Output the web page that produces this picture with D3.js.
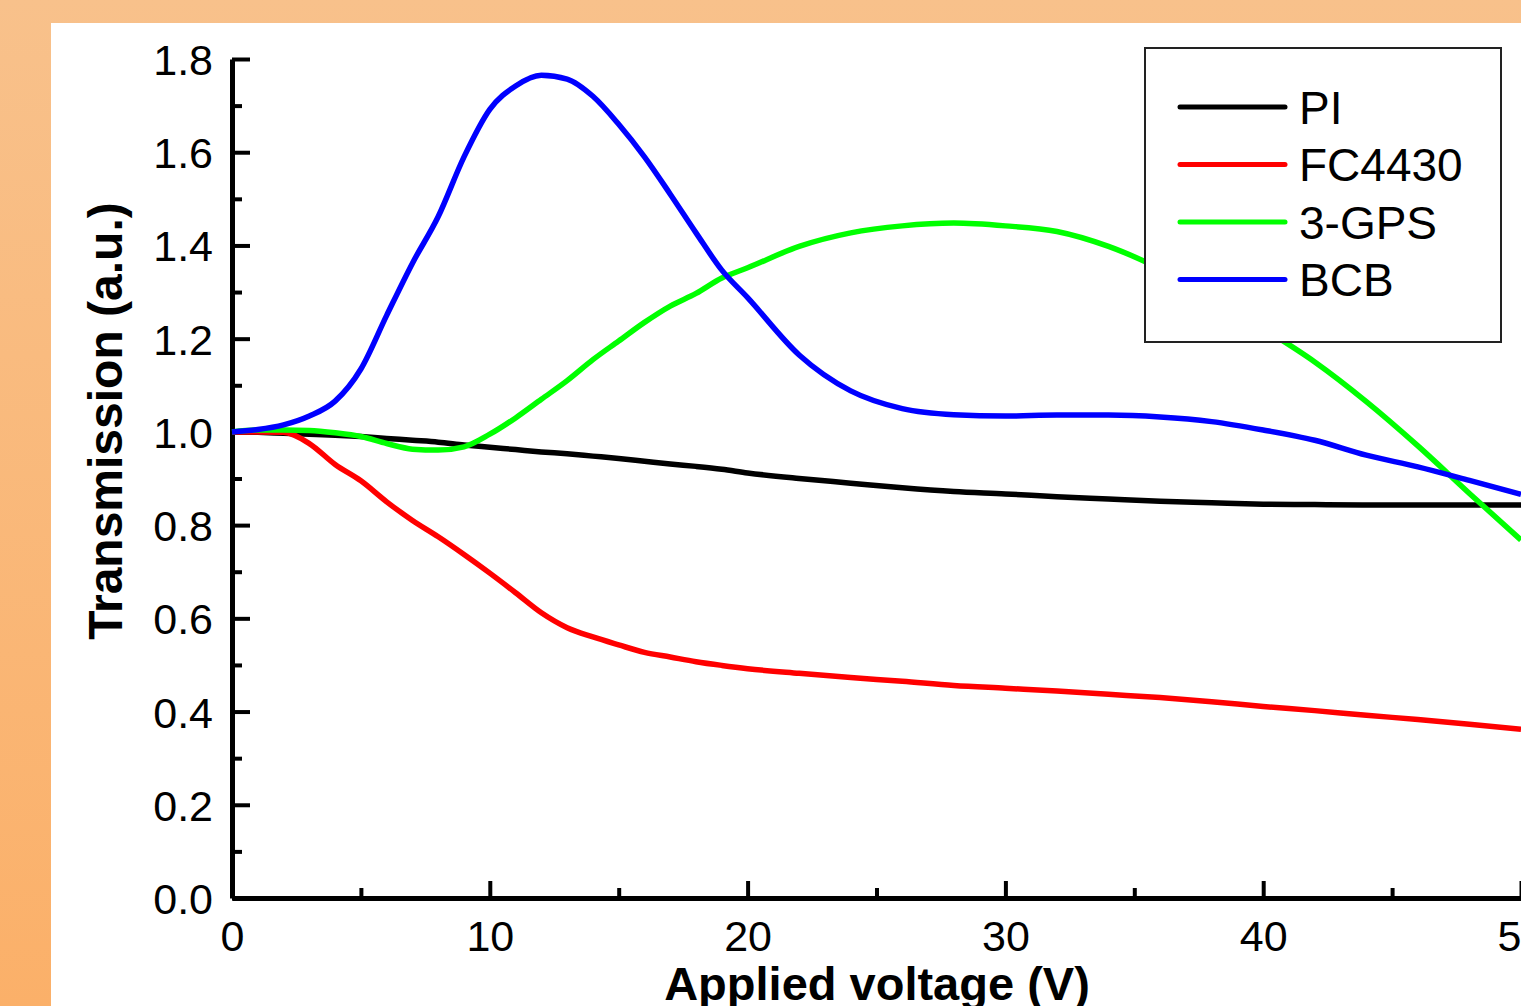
<!DOCTYPE html>
<html>
<head>
<meta charset="utf-8">
<script src="https://cdn.jsdelivr.net/npm/d3@7/dist/d3.min.js"></script>
<style>
  html, body { margin: 0; padding: 0; overflow: hidden; }
  svg { display: block; font-family: "Liberation Sans", Arial, sans-serif; }
</style>
</head>
<body>
<div id="chart"></div>
<script>
// applied voltage (V)
const voltage = [0,1,2,3,4,5,6,7,8,9,10,11,12,13,14,15,16,17,18,19,20,
  22,24,26,28,30,32,34,36,38,40,42,44,46,48,50];

// transmission (a.u.) per alignment layer
const pi = [1.000,0.999,0.997,0.995,0.993,0.990,0.986,0.982,0.978,0.972,0.967,
  0.962,0.957,0.953,0.948,0.943,0.937,0.931,0.926,0.920,0.912,
  0.900,0.890,0.880,0.872,0.867,0.861,0.856,0.851,0.848,0.845,0.844,0.843,0.843,0.843,0.843];
const fc4430 = [1.000,1.000,0.999,0.975,0.930,0.895,0.850,0.810,0.775,0.737,0.697,
  0.655,0.612,0.580,0.560,0.543,0.527,0.517,0.507,0.499,0.492,
  0.482,0.473,0.465,0.456,0.450,0.444,0.437,0.430,0.421,0.411,0.402,0.392,0.383,0.373,0.362];
const gps = [1.000,1.004,1.004,1.003,0.998,0.990,0.975,0.963,0.961,0.968,0.995,
  1.030,1.070,1.110,1.155,1.195,1.235,1.270,1.297,1.330,1.352,
  1.398,1.427,1.442,1.448,1.442,1.430,1.398,1.350,1.290,1.222,1.150,1.065,0.970,0.868,0.768];
const bcb = [1.000,1.005,1.015,1.034,1.066,1.135,1.250,1.362,1.462,1.590,1.692,
  1.742,1.765,1.757,1.720,1.660,1.590,1.510,1.427,1.347,1.288,
  1.165,1.088,1.050,1.037,1.034,1.036,1.036,1.032,1.022,1.004,0.982,0.950,0.925,0.896,0.866];

const seriesNames = ["PI", "FC4430", "3-GPS", "BCB"];
const seriesValues = [pi, fc4430, gps, bcb];
const seriesColors = ["#000000", "#ff0000", "#00ff00", "#0000ff"];

const xTicks = [0, 10, 20, 30, 40, 50];
const xMinor = [5, 15, 25, 35, 45];
const yTicks = [0, 0.2, 0.4, 0.6, 0.8, 1.0, 1.2, 1.4, 1.6, 1.8];
const yMinor = [0.1, 0.3, 0.5, 0.7, 0.9, 1.1, 1.3, 1.5, 1.7];

let width = 1521, height = 1006;
let plotLeft = 232, plotRight = 1521, plotTop = 59, plotBottom = 898;

let svg = d3.select("#chart")
  .append("svg")
  .attr("width", width)
  .attr("height", height);

let defs = svg.append("defs");
let grad = defs.append("linearGradient")
  .attr("id", "bg")
  .attr("x1", 0).attr("y1", 0).attr("x2", 0).attr("y2", 1);
grad.append("stop").attr("offset", "0%").attr("stop-color", "#f8c18b");
grad.append("stop").attr("offset", "100%").attr("stop-color", "#fbb069");

svg.append("rect")
  .attr("width", width).attr("height", height)
  .style("fill", "url(#bg)");

// slide title, only its descenders show at the top edge
svg.append("text")
  .text("Applied voltage (V) comparison")
  .attr("x", 60)
  .attr("y", -18)
  .style("font-size", "87px")
  .style("font-weight", "bold")
  .style("fill", "#111");

svg.append("rect")
  .attr("x", 51).attr("y", 23)
  .attr("width", width - 51).attr("height", height - 23)
  .style("fill", "white");

let x = d3.scaleLinear().domain([0, 50]).range([plotLeft, plotRight]);
let y = d3.scaleLinear().domain([0, 1.8]).range([plotBottom, plotTop]);

// minor ticks
let xm = svg.append("g")
  .attr("transform", `translate(0,${plotBottom})`)
  .call(d3.axisBottom(x).tickValues(xMinor).tickSize(-10).tickFormat(""));
let ym = svg.append("g")
  .attr("transform", `translate(${plotLeft},0)`)
  .call(d3.axisLeft(y).tickValues(yMinor).tickSize(-10).tickFormat(""));
[xm, ym].forEach(g => {
  g.select(".domain").remove();
  g.selectAll("line").style("stroke", "black").style("stroke-width", 4);
});

// major ticks
let xa = svg.append("g")
  .attr("transform", `translate(0,${plotBottom})`)
  .call(d3.axisBottom(x).tickValues(xTicks).tickSize(-17).tickSizeOuter(0).tickFormat(d3.format("d")));
xa.selectAll("text")
  .attr("y", 53).attr("dy", 0)
  .style("font-size", "43px")
  .style("fill", "black");

let ya = svg.append("g")
  .attr("transform", `translate(${plotLeft},0)`)
  .call(d3.axisLeft(y).tickValues(yTicks).tickSize(-18).tickSizeOuter(0).tickFormat(d3.format(".1f")));
ya.selectAll("text")
  .attr("x", -19).attr("dy", "0.36em")
  .style("font-size", "43px")
  .style("fill", "black");

[xa, ya].forEach(g => {
  g.select(".domain").style("stroke", "black").style("stroke-width", 5);
  g.selectAll(".tick line").style("stroke", "black").style("stroke-width", 4);
});

// curves
let line = d3.line()
  .x((d, i) => x(voltage[i]))
  .y(d => y(d))
  .curve(d3.curveMonotoneX);

seriesValues.forEach((vals, index) => {
  svg.append("path")
    .datum(vals)
    .attr("d", line)
    .style("fill", "none")
    .style("stroke", seriesColors[index])
    .style("stroke-width", 5.5)
    .style("stroke-linejoin", "round");
});

// axis titles
svg.append("text")
  .text("Applied voltage (V)")
  .attr("x", 877)
  .attr("y", 1000)
  .attr("text-anchor", "middle")
  .style("font-size", "47px")
  .style("font-weight", "bold");

svg.append("text")
  .text("Transmission (a.u.)")
  .attr("transform", "translate(122,421) rotate(-90)")
  .attr("text-anchor", "middle")
  .style("font-size", "48px")
  .style("font-weight", "bold");

// legend
let legend = svg.append("g").attr("id", "legend");
legend.append("rect")
  .attr("x", 1145).attr("y", 48)
  .attr("width", 356).attr("height", 294)
  .style("fill", "white")
  .style("stroke", "#222")
  .style("stroke-width", 2);
seriesNames.forEach((name, index) => {
  let ly = 107 + index * 57.5;
  legend.append("line")
    .attr("x1", 1180).attr("x2", 1285)
    .attr("y1", ly).attr("y2", ly)
    .style("stroke", seriesColors[index])
    .style("stroke-width", 5)
    .style("stroke-linecap", "round");
  legend.append("text")
    .text(name)
    .attr("x", 1299)
    .attr("y", ly)
    .attr("dy", "0.36em")
    .style("font-size", "46px")
    .style("fill", "black");
});
</script>
</body>
</html>
